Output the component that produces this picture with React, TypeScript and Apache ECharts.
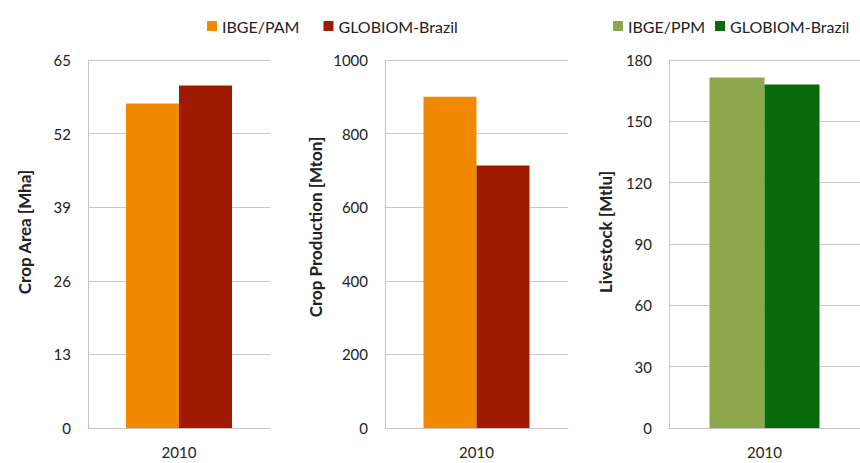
import React, { useEffect, useRef } from "react";
import * as echarts from "echarts";

const categories = ["2010"];
const cropAreaIBGE = [57.3];
const cropAreaGLOBIOM = [60.5];
const cropProdIBGE = [900];
const cropProdGLOBIOM = [713];
const livestockIBGE = [171.5];
const livestockGLOBIOM = [168];

const FONT = "Lato";

export default function App() {
  const ref = useRef<HTMLDivElement>(null);
  useEffect(() => {
    if (!ref.current) return;
    const chart = echarts.init(ref.current, null, { renderer: "svg" });
    const gridTop = 60;
    const gridH = 368;
    const grids = [
      { left: 88, top: gridTop, width: 182, height: gridH },
      { left: 385, top: gridTop, width: 183, height: gridH },
      { left: 669, top: gridTop, width: 196, height: gridH },
    ];
    const yCfg = [
      { max: 65, interval: 13, name: "Crop Area [Mha]", gap: 55 },
      { max: 1000, interval: 200, name: "Crop Production [Mton]", gap: 61 },
      { max: 180, interval: 30, name: "Livestock [Mtlu]", gap: 55 },
    ];
    const axisColor = "#c4c4c4";
    const legendText = { fontFamily: FONT, fontSize: 16, color: "#222" };
    const option: any = {
      animation: false,
      backgroundColor: "#ffffff",
      textStyle: { fontFamily: FONT },
      legend: [
        {
          left: 207,
          top: 18,
          width: 300,
          padding: 0,
          itemWidth: 10,
          itemHeight: 10,
          itemGap: 24,
          icon: "rect",
          textStyle: legendText,
          data: ["IBGE/PAM", "GLOBIOM-Brazil"],
        },
        {
          left: 613,
          top: 18,
          width: 247,
          padding: 0,
          itemWidth: 10,
          itemHeight: 10,
          itemGap: 10,
          icon: "rect",
          textStyle: legendText,
          data: ["IBGE/PPM", "GLOBIOM-Brazil-L"],
          formatter: (n: string) => (n === "GLOBIOM-Brazil-L" ? "GLOBIOM-Brazil" : n),
        },
      ],
      grid: grids,
      xAxis: grids.map((_, i) => ({
        type: "category",
        gridIndex: i,
        data: categories,
        axisLine: { show: true, lineStyle: { color: axisColor } },
        axisTick: { show: false },
        axisLabel: { margin: 16, fontSize: 15, color: "#222", fontFamily: FONT },
      })),
      yAxis: yCfg.map((c, i) => ({
        type: "value",
        gridIndex: i,
        min: 0,
        max: c.max,
        interval: c.interval,
        name: c.name,
        nameLocation: "middle",
        nameGap: c.gap,
        nameTextStyle: {
          fontSize: 17,
          fontWeight: "bold",
          color: "#222",
          fontFamily: FONT,
          padding: [0, 0, 0, i === 1 ? 34 : 24],
        },
        axisLine: { show: true, lineStyle: { color: axisColor } },
        axisTick: { show: false },
        axisLabel: {
          margin: 17,
          fontSize: 15,
          color: "#222",
          fontFamily: FONT,
          formatter: (v: number) => String(v),
        },
        splitLine: { show: true, lineStyle: { color: "#c8c8c8" } },
      })),
      series: [
        { name: "IBGE/PAM", type: "bar", xAxisIndex: 0, yAxisIndex: 0, data: cropAreaIBGE, barWidth: 53, barGap: "0%", itemStyle: { color: "#F18A00" } },
        { name: "GLOBIOM-Brazil", type: "bar", xAxisIndex: 0, yAxisIndex: 0, data: cropAreaGLOBIOM, barWidth: 53, barGap: "0%", itemStyle: { color: "#A01A02" } },
        { name: "IBGE/PAM", type: "bar", xAxisIndex: 1, yAxisIndex: 1, data: cropProdIBGE, barWidth: 53, barGap: "0%", itemStyle: { color: "#F18A00" } },
        { name: "GLOBIOM-Brazil", type: "bar", xAxisIndex: 1, yAxisIndex: 1, data: cropProdGLOBIOM, barWidth: 53, barGap: "0%", itemStyle: { color: "#A01A02" } },
        { name: "IBGE/PPM", type: "bar", xAxisIndex: 2, yAxisIndex: 2, data: livestockIBGE, barWidth: 55, barGap: "0%", itemStyle: { color: "#8DA84C" } },
        { name: "GLOBIOM-Brazil-L", type: "bar", xAxisIndex: 2, yAxisIndex: 2, data: livestockGLOBIOM, barWidth: 55, barGap: "0%", itemStyle: { color: "#096A09" } },
      ],
    };
    chart.setOption(option);
    return () => chart.dispose();
  }, []);
  return <div ref={ref} style={{ width: 860, height: 463, position: "absolute", left: 0, top: 0 }} />;
}
